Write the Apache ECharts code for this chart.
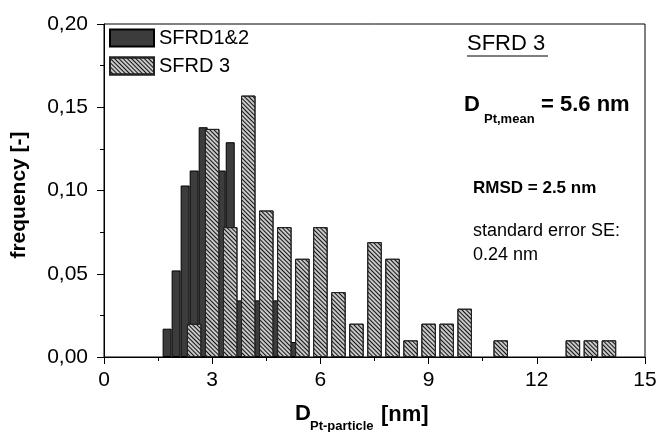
<!DOCTYPE html>
<html>
<head>
<meta charset="utf-8">
<script src="https://cdn.jsdelivr.net/npm/echarts@6/dist/echarts.min.js"></script>
<style>
html,body{margin:0;padding:0;background:#fff;}
#chart{width:661px;height:432px;}
</style>
</head>
<body>
<div id="chart"></div>
<script>
// ---- data ----
var seriesNames = ['SFRD1&2', 'SFRD 3'];
var darkX    = [1.75, 2.0, 2.25, 2.5, 2.75, 3.0, 3.25, 3.5, 3.75, 4.0, 4.25, 4.5, 4.75, 5.0, 5.25];
var darkFreq = [0.017, 0.052, 0.103, 0.112, 0.138, 0.121, 0.112, 0.129, 0.034, 0.052, 0.034, 0.026, 0.034, 0.026, 0.009];
var hatchX    = [2.5, 3.0, 3.5, 4.0, 4.5, 5.0, 5.5, 6.0, 6.5, 7.0, 7.5, 8.0, 8.5, 9.0, 9.5, 10.0, 11.0, 13.0, 13.5, 14.0];
var hatchFreq = [0.020, 0.137, 0.078, 0.157, 0.088, 0.078, 0.059, 0.078, 0.039, 0.020, 0.069, 0.059, 0.010, 0.020, 0.020, 0.029, 0.010, 0.010, 0.010, 0.010];
var xTickLabels = ['0', '3', '6', '9', '12', '15'];
var yTickLabels = ['0,00', '0,05', '0,10', '0,15', '0,20'];

var FONT = '"Liberation Sans", Arial, sans-serif';

function pairs(xs, ys) { return xs.map(function (x, i) { return [x, ys[i]]; }); }

var chart = echarts.init(document.getElementById('chart'), null, {renderer: 'canvas'});

var xAxisBase = {
  type: 'value', min: 0, max: 15, interval: 3,
  axisLine: {show: true, lineStyle: {color: '#000', width: 1}},
  axisTick: {show: true, inside: false, length: 7, lineStyle: {color: '#000'}},
  minorTick: {show: true, splitNumber: 2, length: 4, lineStyle: {color: '#000'}},
  splitLine: {show: false},
  axisLabel: {
    fontSize: 21, color: '#000', fontFamily: FONT, margin: 13,
    formatter: function (v) { return xTickLabels[Math.round(v / 3)]; }
  }
};

chart.setOption({
  animation: false,
  backgroundColor: '#fff',
  grid: {left: 104, right: 16, top: 24, bottom: 75, show: true, borderColor: '#000', borderWidth: 1, containLabel: false},
  legend: {
    show: true, orient: 'vertical', left: 109, top: 28, padding: 0,
    itemWidth: 44, itemHeight: 17, itemGap: 8,
    selectedMode: false,
    textStyle: {fontSize: 20, color: '#000', fontFamily: FONT},
    data: [{name: seriesNames[0], icon: 'rect'}, {name: seriesNames[1], icon: 'rect'}]
  },
  xAxis: [
    xAxisBase,
    {type: 'value', min: 0, max: 15, interval: 3, show: false}
  ],
  yAxis: {
    type: 'value', min: 0, max: 0.2, interval: 0.05,
    axisLine: {show: true, lineStyle: {color: '#000', width: 1}},
    axisTick: {show: true, inside: false, length: 7, lineStyle: {color: '#000'}},
    minorTick: {show: true, splitNumber: 2, length: 4, lineStyle: {color: '#000'}},
    splitLine: {show: false},
    axisLabel: {
      fontSize: 21, color: '#000', fontFamily: FONT, margin: 16,
      formatter: function (v) { return yTickLabels[Math.round(v / 0.05)]; }
    }
  },
  series: [
    {
      name: seriesNames[0], type: 'bar', xAxisIndex: 0,
      barWidth: 9,
      data: pairs(darkX, darkFreq),
      itemStyle: {color: '#3c3c3c', borderColor: '#000', borderWidth: 1}
    },
    {
      name: seriesNames[1], type: 'bar', xAxisIndex: 1,
      barWidth: 14.5,
      data: pairs(hatchX, hatchFreq),
      itemStyle: {
        color: '#c8c8c8', borderColor: '#222', borderWidth: 1,
        decal: {
          symbol: 'rect', symbolSize: 1,
          dashArrayX: [1, 0], dashArrayY: [1, 2],
          rotation: Math.PI / 4, color: '#111'
        }
      }
    }
  ],
  graphic: [
    // y axis title
    {type: 'text', x: 19, y: 195, rotation: Math.PI / 2,
     style: {text: 'frequency [-]', fontSize: 21, fontWeight: 'bold', fontFamily: FONT, fill: '#000', align: 'center', verticalAlign: 'middle'}},
    // x axis title
    {type: 'text', x: 295, y: 414,
     style: {text: 'D', fontSize: 22, fontWeight: 'bold', fontFamily: FONT, fill: '#000', align: 'left', verticalAlign: 'middle'}},
    {type: 'text', x: 310, y: 426,
     style: {text: 'Pt-particle', fontSize: 13, fontWeight: 'bold', fontFamily: FONT, fill: '#000', align: 'left', verticalAlign: 'middle'}},
    {type: 'text', x: 381, y: 415,
     style: {text: '[nm]', fontSize: 22, fontWeight: 'bold', fontFamily: FONT, fill: '#000', align: 'left', verticalAlign: 'middle'}},
    // annotations
    {type: 'text', x: 467, y: 44,
     style: {text: 'SFRD 3', fontSize: 22, fontFamily: FONT, fill: '#000', align: 'left', verticalAlign: 'middle'}},
    {type: 'line', shape: {x1: 467, y1: 56, x2: 548, y2: 56}, style: {stroke: '#000', lineWidth: 1.2}},
    {type: 'text', x: 464, y: 105,
     style: {text: 'D', fontSize: 22, fontWeight: 'bold', fontFamily: FONT, fill: '#000', align: 'left', verticalAlign: 'middle'}},
    {type: 'text', x: 484, y: 119,
     style: {text: 'Pt,mean', fontSize: 13, fontWeight: 'bold', fontFamily: FONT, fill: '#000', align: 'left', verticalAlign: 'middle'}},
    {type: 'text', x: 541, y: 105,
     style: {text: '= 5.6 nm', fontSize: 22, fontWeight: 'bold', fontFamily: FONT, fill: '#000', align: 'left', verticalAlign: 'middle'}},
    {type: 'text', x: 473, y: 188,
     style: {text: 'RMSD = 2.5 nm', fontSize: 17, fontWeight: 'bold', fontFamily: FONT, fill: '#000', align: 'left', verticalAlign: 'middle'}},
    {type: 'text', x: 473, y: 231,
     style: {text: 'standard error SE:', fontSize: 18, fontFamily: FONT, fill: '#000', align: 'left', verticalAlign: 'middle'}},
    {type: 'text', x: 473, y: 255,
     style: {text: '0.24 nm', fontSize: 18, fontFamily: FONT, fill: '#000', align: 'left', verticalAlign: 'middle'}}
  ]
});
</script>
</body>
</html>
